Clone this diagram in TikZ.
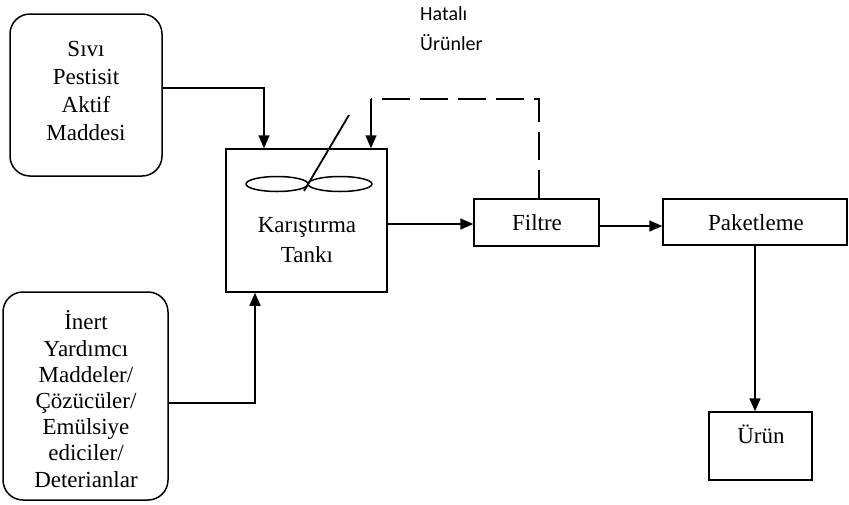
\documentclass[tikz,border=0pt]{standalone}
\usepackage{fontspec}
\setmainfont{Liberation Serif}
\newfontfamily\calib{Carlito}
\usetikzlibrary{arrows.meta}
\begin{document}
\begin{tikzpicture}[x=1pt,y=-1pt,
  blk/.style={draw,line width=1.5pt,inner sep=0pt},
  rbox/.style={blk,rounded corners=20pt},
  lbl/.style={font=\fontsize{23}{28}\selectfont,align=center,anchor=base,inner sep=0pt},
  arr/.style={line width=1.5pt,-{Triangle[length=13pt,width=11pt]}},
  dsh/.style={line width=1.5pt,dash pattern=on 28pt off 10pt}]
\useasboundingbox (0,0) rectangle (849,504);
% boxes
\node[rbox,minimum width=152pt,minimum height=162pt] (sivi) at (86,95) {};
\node[rbox,minimum width=165pt,minimum height=208pt] (inert) at (85.5,396) {};
\node[blk,minimum width=161pt,minimum height=143pt] (tank) at (306.5,220.5) {};
\node[blk,minimum width=125pt,minimum height=47pt] (filtre) at (536.5,222.5) {};
\node[blk,minimum width=184pt,minimum height=46pt] (paket) at (755,222) {};
\node[blk,minimum width=103pt,minimum height=68pt] (urun) at (760.5,446) {};
% texts (anchor=base sits on the last line)
\node[lbl] (tsivi) at (86,140) {Sıvı\\Pestisit\\Aktif\\Maddesi};
\node[lbl,font=\fontsize{23}{26.2}\selectfont] (tinert) at (86,487) {İnert\\Yardımcı\\Maddeler/\\Çözücüler/\\Emülsiye\\ediciler/\\Deterianlar};
\node[lbl,font=\fontsize{23}{30}\selectfont] (ttank) at (307,262) {Karıştırma\\Tankı};
\node[lbl] (tfiltre) at (537,230) {Filtre};
\node[lbl] (tpaket) at (756,230) {Paketleme};
\node[lbl] (turun) at (761,443) {Ürün};
\node[anchor=base west,align=left,inner sep=0pt,font=\calib\fontsize{20}{30}\selectfont] (hatali) at (420,50) {Hatalı\\Ürünler};
% mixer
\draw[line width=1.5pt] (277,184) ellipse [x radius=31pt,y radius=7.5pt];
\draw[line width=1.5pt] (340,184) ellipse [x radius=32pt,y radius=7.5pt];
\draw[line width=1.8pt] (304,191) -- (349,115);
% connectors
\draw[arr] ([yshift=7pt]sivi.east) -| ([xshift=-42.5pt]tank.north);
\draw[arr] ([yshift=-7pt]inert.east) -| ([xshift=-51.5pt]tank.south);
\draw[arr] ([yshift=-3.5pt]tank.east) -- ([yshift=-3.5pt]tank.east -| filtre.west);
\draw[arr] ([yshift=-3.5pt]filtre.east) -- ([yshift=-3.5pt]filtre.east -| paket.west);
\draw[arr] (paket.south) -- (paket.south |- urun.north);
\coordinate (fr) at (539,99);
\coordinate (tl) at (371,99);
\draw[dsh] ([xshift=2.5pt]filtre.north) -- (fr) -- (tl);
\draw[arr] (tl) -- (tl |- tank.north);
\end{tikzpicture}
\end{document}
